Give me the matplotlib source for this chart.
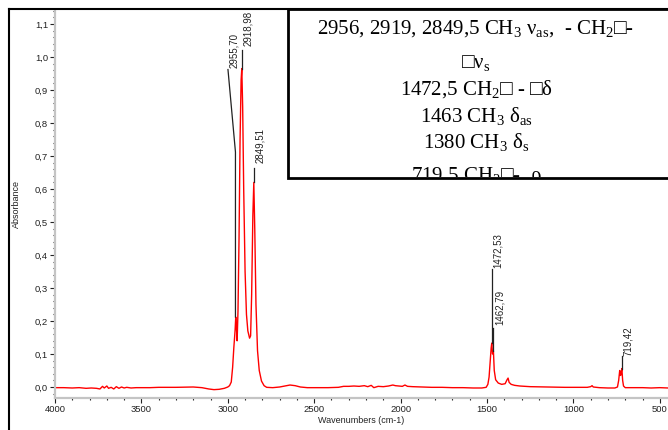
import matplotlib
matplotlib.use("Agg")
import matplotlib.pyplot as plt
from matplotlib.patches import Rectangle
from matplotlib.lines import Line2D
from matplotlib.ticker import MultipleLocator, FuncFormatter

# ---------------- data ----------------
wavenumber = [4000, 3950, 3900, 3860, 3820, 3790, 3760, 3740, 3725, 3715, 3700, 3690,
              3675, 3660, 3645, 3630, 3615, 3600, 3585, 3560, 3530, 3500, 3450, 3400,
              3300, 3200, 3150, 3110, 3080, 3050, 3020, 3000, 2990, 2980, 2972, 2965,
              2958, 2954, 2950, 2946, 2941, 2935, 2929, 2923, 2919, 2914, 2908, 2900,
              2892, 2884, 2874, 2868, 2862, 2855, 2849.5, 2844, 2837, 2828, 2818, 2805,
              2790, 2775, 2740, 2700, 2660, 2640, 2610, 2580, 2540, 2480, 2420, 2360,
              2330, 2300, 2270, 2240, 2210, 2190, 2170, 2155, 2130, 2100, 2070, 2045,
              2030, 2010, 1990, 1975, 1960, 1930, 1880, 1820, 1760, 1700, 1640, 1580,
              1530, 1505, 1495, 1488, 1481, 1476, 1472.5, 1468, 1463, 1458, 1450, 1435,
              1415, 1395, 1384, 1378, 1372, 1360, 1340, 1310, 1250, 1150, 1050, 980,
              920, 900, 892, 885, 850, 800, 760, 745, 738, 732, 727, 723, 719.5, 715,
              710, 700, 650, 600, 550, 500, 452]
absorbance = [-0.002, -0.002, -0.003, -0.002, -0.004, -0.003, -0.004, -0.006, 0.002, -0.003, 0.003, -0.004,
              -0.001, -0.006, 0.001, -0.004, 0.000, -0.003, -0.001, -0.003, -0.002, -0.002, -0.002, -0.001,
              -0.001, 0.000, -0.002, -0.006, -0.008, -0.007, -0.004, 0.000, 0.004, 0.015, 0.060, 0.120,
              0.170, 0.212, 0.180, 0.140, 0.230, 0.450, 0.750, 0.930, 0.965, 0.850, 0.600, 0.350,
              0.220, 0.170, 0.148, 0.155, 0.280, 0.520, 0.620, 0.480, 0.250, 0.110, 0.050, 0.018,
              0.004, -0.001, -0.002, 0.000, 0.004, 0.006, 0.004, 0.000, -0.002, -0.002, -0.002, -0.001,
              0.002, 0.002, 0.003, 0.002, 0.004, 0.001, 0.005, -0.002, 0.002, 0.001, 0.003, 0.006,
              0.004, 0.003, 0.002, 0.006, 0.002, 0.001, 0.000, -0.001, -0.001, -0.002, -0.002, -0.003,
              -0.003, -0.001, 0.008, 0.030, 0.080, 0.118, 0.133, 0.100, 0.110, 0.050, 0.022, 0.012,
              0.008, 0.010, 0.022, 0.027, 0.014, 0.008, 0.005, 0.003, 0.001, 0.000, -0.001, -0.001,
              -0.001, 0.001, 0.004, 0.000, -0.002, -0.003, -0.003, 0.000, 0.020, 0.050, 0.035, 0.045, 0.056, 0.020,
              0.003, -0.002, -0.002, -0.002, -0.003, -0.002, -0.003]

# peak labels
peak_labels = ["2955,70", "2918,98", "2849,51", "1472,53", "1462,79", "719,42"]
peak_wn = [2955.70, 2918.98, 2849.51, 1472.53, 1462.79, 719.42]
peak_top = [0.212, 0.965, 0.620, 0.133, 0.110, 0.056]
leader_wn = [2999.0, 2918.98, 2849.51, 1472.53, 1462.79, 719.42]
leader_y = [0.962, 1.021, 0.664, 0.358, 0.180, 0.094]
bend_y = [0.712, 1.021, 0.664, 0.358, 0.180, 0.094]
label_y = [0.967, 1.033, 0.679, 0.360, 0.188, 0.094]

y_ticks = [0.0, 0.1, 0.2, 0.3, 0.4, 0.5, 0.6, 0.7, 0.8, 0.9, 1.0, 1.1]
x_ticks = [4000, 3500, 3000, 2500, 2000, 1500, 1000, 500]

box_lines = [r"2956, 2919, 2849,5 CH$_3$ ν$_{\mathrm{as}}$,  - CH$_2$$□$-",
             r"$□$ν$_{\mathrm{s}}$",
             r"1472,5 CH$_2$$□$ - $□$δ",
             r"1463 CH$_3$ δ$_{\mathrm{as}}$",
             r"1380 CH$_3$ δ$_{\mathrm{s}}$",
             r"719,5 CH$_2$$□$-  ρ"]

# ---------------- figure ----------------
plt.rcParams['mathtext.fontset'] = 'custom'
plt.rcParams['mathtext.rm'] = 'Liberation Serif'
plt.rcParams['mathtext.it'] = 'Liberation Serif:italic'
plt.rcParams['mathtext.bf'] = 'Liberation Serif:bold'
plt.rcParams['mathtext.fallback'] = 'stix'

W, H = 668, 430
fig = plt.figure(figsize=(W / 100, H / 100), dpi=100)
fig.patch.set_facecolor('white')

ax_l, ax_r, ax_t, ax_b = 55, 668, 10, 398
ax = fig.add_axes([ax_l / W, 1 - ax_b / H, (ax_r - ax_l) / W, (ax_b - ax_t) / H])

ax.plot(wavenumber, absorbance, color='#ff0000', lw=1.0, zorder=2)

# peak labels with leader lines
for lab, pw, pt, lw_, ly, by, ty in zip(peak_labels, peak_wn, peak_top, leader_wn,
                                         leader_y, bend_y, label_y):
    ax.plot([lw_, pw, pw], [ly, by, pt], color='#222222', lw=0.9, zorder=3)
    ax.annotate(lab, xy=(lw_, ty), xytext=(4.3, 0), textcoords='offset points',
                rotation=90, ha='center', va='bottom', fontsize=7,
                family='Liberation Sans', color='#222222', zorder=4)

px_per_cm = 86.4 / 500.0
ax.set_xlim(4000, 4000 - (ax_r - ax_l) / px_per_cm)
ax.set_ylim(-(ax_b - 387) / 330.0, (387 - ax_t) / 330.0)

ax.set_xticks(x_ticks)
ax.set_yticks(y_ticks)
ax.xaxis.set_minor_locator(MultipleLocator(100))
ax.yaxis.set_minor_locator(MultipleLocator(0.02))
ax.yaxis.set_major_formatter(FuncFormatter(lambda v, p: f"{v:.1f}".replace('.', ',')))
ax.xaxis.set_major_formatter(FuncFormatter(lambda v, p: f"{int(round(v))}"))

for s in ['top', 'right']:
    ax.spines[s].set_visible(False)
for s in ['left', 'bottom']:
    ax.spines[s].set_color('#c4c4c4')
    ax.spines[s].set_linewidth(1.6)

ax.tick_params(axis='both', which='major', length=3.5, width=0.8, color='#222222',
               labelsize=6.8, labelcolor='#222222', pad=1.5)
ax.tick_params(axis='both', which='minor', length=1.5, width=0.8, color='#222222')
for t in ax.get_xticklabels() + ax.get_yticklabels():
    t.set_family('Liberation Sans')

ax.set_xlabel("Wavenumbers (cm-1)", fontsize=6.5, family='Liberation Sans', color='#222222')
ax.set_ylabel("Absorbance", fontsize=6.5, family='Liberation Sans', color='#222222')
ax.xaxis.set_label_coords(0.5, -(416 - ax_b) / (ax_b - ax_t))
ax.yaxis.set_label_coords((21 - ax_l) / (ax_r - ax_l), 0.5)

# outer frame
fig.add_artist(Line2D([9 / W, 9 / W], [0, 1 - 9 / H], transform=fig.transFigure,
                      color='black', lw=1.5))
fig.add_artist(Line2D([9 / W, 1], [1 - 9 / H, 1 - 9 / H], transform=fig.transFigure,
                      color='black', lw=1.5))

# annotation box
bx0, by_top, by_bot = 288, 9, 178
box = Rectangle((bx0 / W, 1 - by_bot / H), 1.1 - bx0 / W, (by_bot - by_top) / H,
                transform=fig.transFigure, facecolor='white', edgecolor='black',
                lw=2.0, zorder=5)
fig.add_artist(box)
clip = Rectangle((bx0 / W, 1 - (by_bot - 1.5) / H), 1.1 - bx0 / W, (by_bot - 1.5 - by_top) / H,
                 transform=fig.transFigure, facecolor='none', edgecolor='none')

baselines_px = [34, 68, 95, 122, 148, 181]
for line, bpx in zip(box_lines, baselines_px):
    t = fig.text(476 / W, 1 - bpx / H, line, ha='center', va='baseline',
                 fontsize=15, family='Liberation Serif', color='black', zorder=6)
    t.set_clip_path(clip)
    t.set_clip_on(True)

fig.savefig("out.png", dpi=100)
